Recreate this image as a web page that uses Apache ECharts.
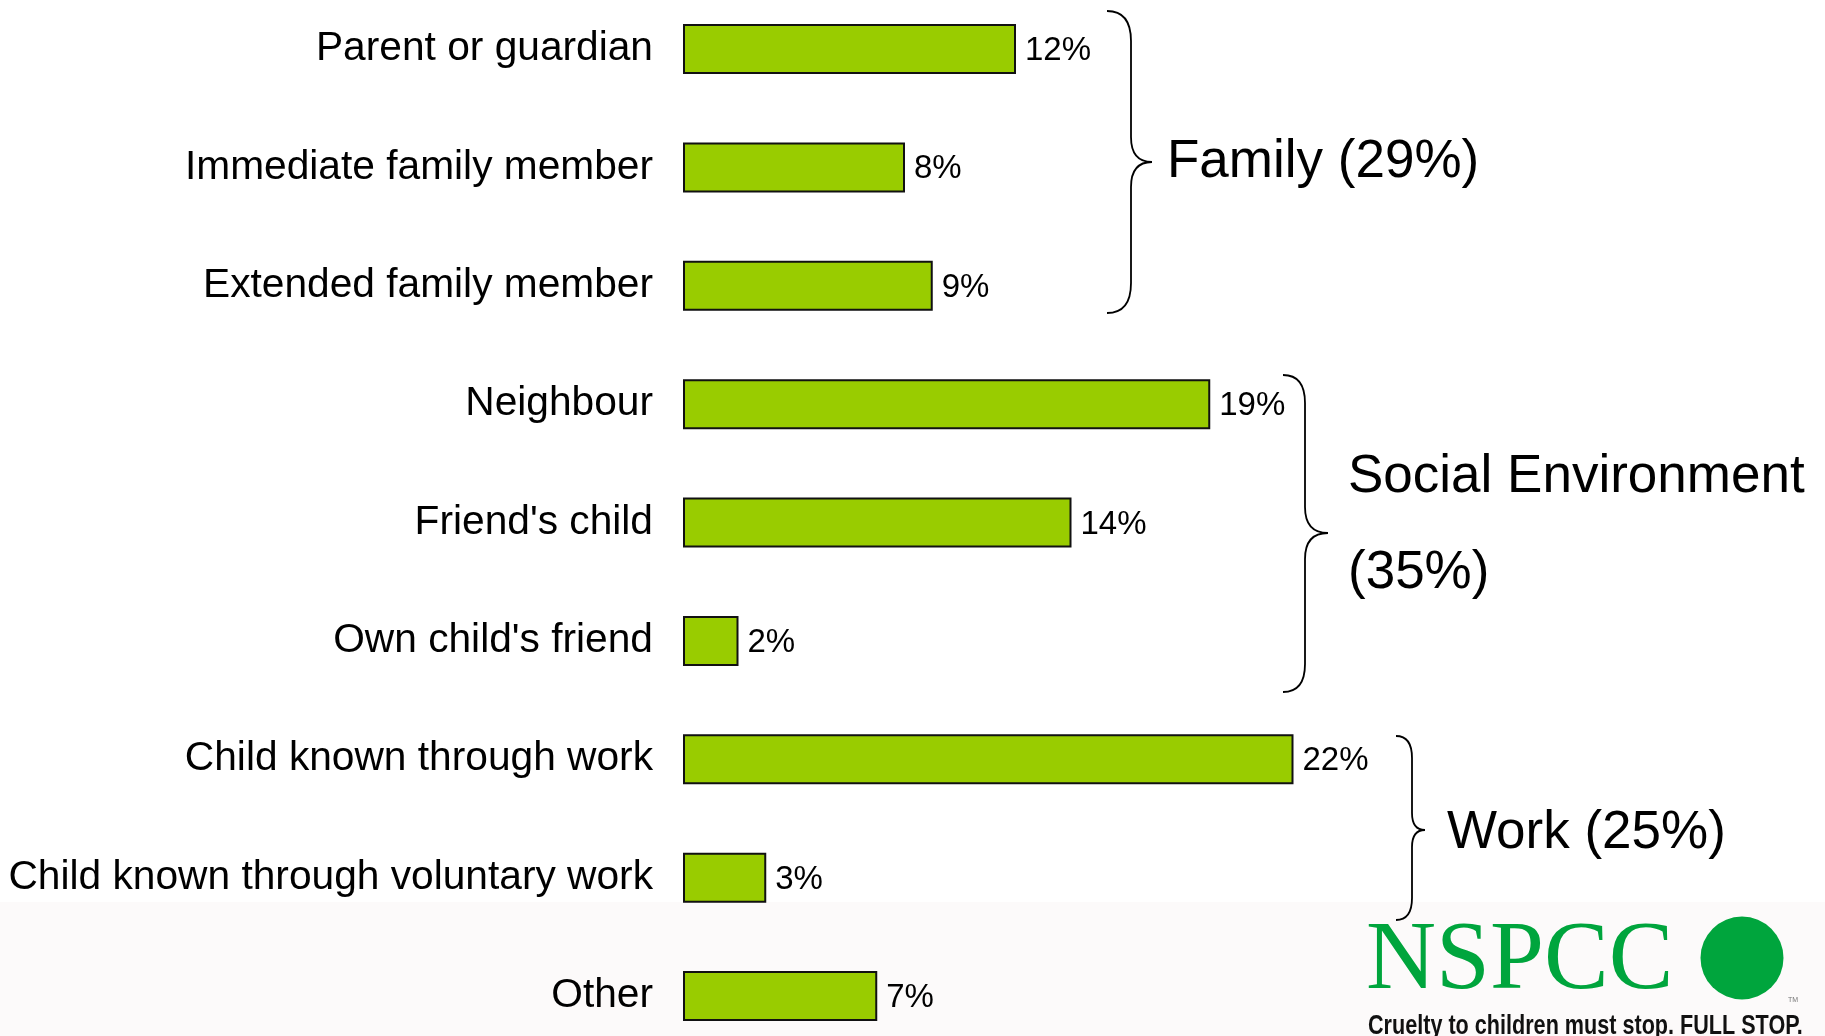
<!DOCTYPE html>
<html>
<head>
<meta charset="utf-8">
<title>Relationship to the child</title>
<script src="https://cdn.jsdelivr.net/npm/echarts@6/dist/echarts.min.js"></script>
<style>
  html, body { margin: 0; padding: 0; background: #ffffff; }
  #chart { width: 1825px; height: 1036px; }
</style>
</head>
<body>
<div id="chart"></div>
<script>
// Relationship categories, top to bottom
const categories = [
  'Parent or guardian',
  'Immediate family member',
  'Extended family member',
  'Neighbour',
  "Friend's child",
  "Own child's friend",
  'Child known through work',
  'Child known through voluntary work',
  'Other'
];

// Share of respondents (%)
const values = [12, 8, 9, 19, 14, 2, 22, 3, 7];

// Groupings shown with braces on the right (category index ranges, inclusive)
const groupNames = ['Family', 'Social Environment', 'Work'];
const groupStart = [0, 3, 6];
const groupEnd = [2, 5, 7];

const FONT = '"Liberation Sans", Arial, Helvetica, sans-serif';

function groupTotal(g) {
  let s = 0;
  for (let i = groupStart[g]; i <= groupEnd[g]; i++) s += values[i];
  return s;
}

// Right-facing curly brace built from lines and quadratic curves:
// x0 = end of arms, x1 = spine, x2 = tip
function braceElements(x0, x1, x2, yTop, yMid, yBot) {
  const r = Math.min(x1 - x0 + 6, 30);
  const r2 = Math.min(x2 - x1 + 4, 26);
  const st = { stroke: '#000', lineWidth: 1.8, fill: null };
  const curve = function (ax, ay, cx, cy, bx, by) {
    return { type: 'bezierCurve', silent: true,
      shape: { x1: ax, y1: ay, cpx1: cx, cpy1: cy, x2: bx, y2: by }, style: st };
  };
  const line = function (ax, ay, bx, by) {
    return { type: 'line', silent: true,
      shape: { x1: ax, y1: ay, x2: bx, y2: by }, style: st };
  };
  return [
    curve(x0, yTop, x1, yTop, x1, yTop + r),
    line(x1, yTop + r, x1, yMid - r2),
    curve(x1, yMid - r2, x1, yMid, x2, yMid),
    curve(x2, yMid, x1, yMid, x1, yMid + r2),
    line(x1, yMid + r2, x1, yBot - r),
    curve(x1, yBot - r, x1, yBot, x0, yBot)
  ];
}

// Brace and caption placement for each group
const braceLayout = [
  { x0: 1107, x1: 1131, x2: 1152, top: 11, mid: 162, bot: 313 },
  { x0: 1283, x1: 1305, x2: 1328, top: 375, mid: 533, bot: 692 },
  { x0: 1396, x1: 1412, x2: 1425, top: 736, mid: 830, bot: 920 }
];
const captionLayout = [
  { x: 1167, lines: [162] },
  { x: 1348, lines: [477, 573] },
  { x: 1447, lines: [833] }
];

const graphics = [];

// pale band behind the lower part of the slide
graphics.push({
  type: 'rect', z: -10, silent: true,
  shape: { x: 0, y: 902, width: 1825, height: 134 },
  style: { fill: '#fcfafa' }
});

groupNames.forEach(function (name, g) {
  const b = braceLayout[g];
  braceElements(b.x0, b.x1, b.x2, b.top, b.mid, b.bot).forEach(function (el) {
    graphics.push(el);
  });
  const total = '(' + groupTotal(g) + '%)';
  const c = captionLayout[g];
  const texts = c.lines.length === 2 ? [name, total] : [name + ' ' + total];
  texts.forEach(function (t, k) {
    graphics.push({
      type: 'text', silent: true, x: c.x, y: c.lines[k],
      style: {
        text: t, fill: '#000', font: '53px ' + FONT,
        textAlign: 'left', textVerticalAlign: 'middle'
      }
    });
  });
});

// NSPCC logo
graphics.push({
  type: 'text', silent: true, x: 1366, y: 1011,
  style: {
    text: 'NSPCC', fill: '#00a53d',
    font: '97px "Liberation Serif", "Times New Roman", serif',
    textAlign: 'left', textVerticalAlign: 'bottom'
  }
});
graphics.push({
  type: 'circle', silent: true,
  shape: { cx: 1742, cy: 958, r: 41.5 },
  style: { fill: '#00a53d' }
});
graphics.push({
  type: 'text', silent: true, x: 1788, y: 1000,
  style: { text: 'TM', fill: '#777', font: '7px ' + FONT, textAlign: 'left', textVerticalAlign: 'middle' }
});
graphics.push({
  type: 'text', silent: true, x: 1368, y: 1013, scaleX: 0.80,
  style: {
    text: 'Cruelty to children must stop. FULL STOP.', fill: '#111',
    font: 'bold 27px ' + FONT, textAlign: 'left', textVerticalAlign: 'top'
  }
});

const chart = echarts.init(document.getElementById('chart'), null, { renderer: 'canvas' });

chart.setOption({
  backgroundColor: '#ffffff',
  animation: false,
  // category centres sit on the grid edges (boundaryGap: false)
  grid: { left: 683, top: 49, height: 947, width: 1110, containLabel: false },
  xAxis: {
    type: 'value', min: 0, max: 40, show: false
  },
  yAxis: {
    type: 'category',
    data: categories,
    inverse: true,
    boundaryGap: false,
    axisLine: { show: false },
    axisTick: { show: false },
    splitLine: { show: false },
    axisLabel: {
      margin: 30,
      color: '#000',
      fontFamily: FONT,
      fontSize: 40.7,
      padding: [4, 0, 0, 0]
    }
  },
  series: [{
    type: 'bar',
    data: values,
    barWidth: 50,
    clip: false,
    itemStyle: { color: '#99cc00', borderColor: '#111', borderWidth: 2 },
    label: {
      show: true,
      position: 'right',
      distance: 9,
      offset: [0, 2],
      formatter: '{c}%',
      color: '#000',
      fontFamily: FONT,
      fontSize: 33
    }
  }],
  graphic: graphics
});
</script>
</body>
</html>
